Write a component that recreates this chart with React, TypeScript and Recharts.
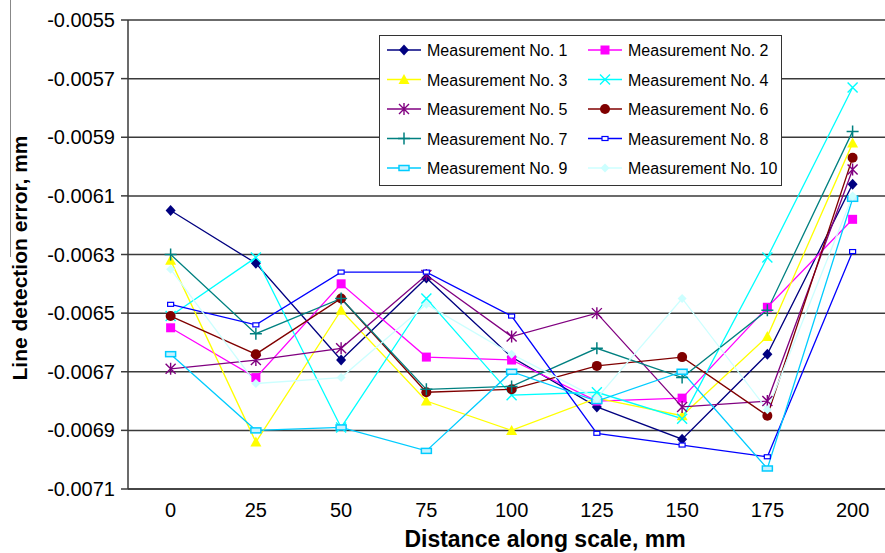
import React from 'react';
import { LineChart, Line, XAxis, YAxis, CartesianGrid, Label } from 'recharts';

const distances = [0, 25, 50, 75, 100, 125, 150, 175, 200];
const yTicks = [-0.0071, -0.0069, -0.0067, -0.0065, -0.0063, -0.0061, -0.0059, -0.0057, -0.0055];

const m1 = [-0.00615, -0.00633, -0.00666, -0.00638, -0.00665, -0.00682, -0.00693, -0.00664, -0.00606];
const m2 = [-0.00655, -0.00672, -0.0064, -0.00665, -0.00666, -0.0068, -0.00679, -0.00648, -0.00618];
const m3 = [-0.00632, -0.00694, -0.00649, -0.0068, -0.0069, -0.00679, -0.00685, -0.00658, -0.00592];
const m4 = [-0.00651, -0.00631, -0.00689, -0.00645, -0.00678, -0.00677, -0.00686, -0.00631, -0.00573];
const m5 = [-0.00669, -0.00666, -0.00662, -0.00637, -0.00658, -0.0065, -0.00682, -0.0068, -0.00601];
const m6 = [-0.00651, -0.00664, -0.00645, -0.00677, -0.00676, -0.00668, -0.00665, -0.00685, -0.00597];
const m7 = [-0.0063, -0.00657, -0.00645, -0.00676, -0.00675, -0.00662, -0.00672, -0.00649, -0.00588];
const m8 = [-0.00647, -0.00654, -0.00636, -0.00636, -0.00651, -0.00691, -0.00695, -0.00699, -0.00629];
const m9 = [-0.00664, -0.0069, -0.00689, -0.00697, -0.0067, -0.0068, -0.0067, -0.00703, -0.00611];
const m10 = [-0.00635, -0.00674, -0.00672, -0.00647, -0.00664, -0.00679, -0.00645, -0.00683, -0.0061];

const seriesValues = [m1, m2, m3, m4, m5, m6, m7, m8, m9, m10];
const seriesNames = [
  'Measurement No. 1', 'Measurement No. 2', 'Measurement No. 3', 'Measurement No. 4', 'Measurement No. 5',
  'Measurement No. 6', 'Measurement No. 7', 'Measurement No. 8', 'Measurement No. 9', 'Measurement No. 10',
];
const seriesColors = ['#000080', '#FF00FF', '#FFFF00', '#00FFFF', '#800080', '#800000', '#008080', '#0000FF', '#00CCFF', '#CCFFFF'];
const seriesShapes = ['diamond', 'square', 'triangle', 'x', 'asterisk', 'circle', 'plus', 'dash', 'rect', 'smallDiamond'];

const data = distances.map((d, i) => {
  const row: any = { d };
  seriesValues.forEach((vals, s) => { row['m' + (s + 1)] = vals[i]; });
  return row;
});

const font = '"Liberation Sans", Arial, sans-serif';

function Marker({ cx, cy, shape, color }: { cx: number; cy: number; shape: string; color: string }) {
  if (cx == null || cy == null) return null;
  switch (shape) {
    case 'diamond':
      return <polygon points={`${cx},${cy - 5.5} ${cx + 5},${cy} ${cx},${cy + 5.5} ${cx - 5},${cy}`} fill={color} />;
    case 'square':
      return <rect x={cx - 4.5} y={cy - 4.5} width={9} height={9} fill={color} />;
    case 'triangle':
      return <polygon points={`${cx},${cy - 5.5} ${cx + 5.5},${cy + 4.5} ${cx - 5.5},${cy + 4.5}`} fill={color} />;
    case 'x':
      return <path d={`M${cx - 5},${cy - 5}L${cx + 5},${cy + 5}M${cx - 5},${cy + 5}L${cx + 5},${cy - 5}`} stroke={color} strokeWidth={1.4} fill="none" />;
    case 'asterisk':
      return <path d={`M${cx - 5},${cy - 5}L${cx + 5},${cy + 5}M${cx - 5},${cy + 5}L${cx + 5},${cy - 5}M${cx},${cy - 6}L${cx},${cy + 6}`} stroke={color} strokeWidth={1.4} fill="none" />;
    case 'circle':
      return <circle cx={cx} cy={cy} r={5} fill={color} />;
    case 'plus':
      return <path d={`M${cx - 6},${cy}L${cx + 6},${cy}M${cx},${cy - 6}L${cx},${cy + 6}`} stroke={color} strokeWidth={1.5} fill="none" />;
    case 'dash':
      return <rect x={cx - 3} y={cy - 2} width={6} height={4} fill="#fff" stroke={color} strokeWidth={1.2} />;
    case 'rect':
      return <rect x={cx - 5} y={cy - 2.5} width={10} height={5} fill="#c8f2ff" stroke={color} strokeWidth={1.5} />;
    case 'smallDiamond':
      return <polygon points={`${cx},${cy - 4.5} ${cx + 4.5},${cy} ${cx},${cy + 4.5} ${cx - 4.5},${cy}`} fill={color} />;
    default:
      return null;
  }
}

const renderDot = (s: number) => (props: any) => (
  <Marker key={`dot-${s}-${props.index}`} cx={props.cx} cy={props.cy} shape={seriesShapes[s]} color={seriesColors[s]} />
);

const XTitle = () => (
  <text x={545} y={547} textAnchor="middle" fontFamily={font} fontSize={23} fontWeight="bold" fill="#000">
    Distance along scale, mm
  </text>
);

const YTitle = () => (
  <text x={27} y={258} transform="rotate(-90 27 258)" textAnchor="middle" fontFamily={font} fontSize={21} fontWeight="bold" fill="#000">
    Line detection error, mm
  </text>
);

const ChartLegend = () => (
  <div style={{ position: 'absolute', left: 379, top: 35, width: 403, height: 151, boxSizing: 'border-box', border: '1.5px solid #333', background: '#fff' }}>
    <svg width={400} height={148} style={{ position: 'absolute', left: 0, top: 0 }}>
      {seriesNames.map((name, s) => {
        const col = s % 2;
        const row = Math.floor(s / 2);
        const x0 = col === 0 ? 7 : 208;
        const y = 14 + row * 29.5;
        return (
          <g key={name}>
            <line x1={x0} x2={x0 + 34} y1={y} y2={y} stroke={seriesColors[s]} strokeWidth={1.5} />
            <Marker cx={x0 + 17} cy={y} shape={seriesShapes[s]} color={seriesColors[s]} />
            <text x={x0 + 40} y={y + 6} fontFamily={font} fontSize={16} fill="#000">{name}</text>
          </g>
        );
      })}
    </svg>
  </div>
);

export default function App() {
  return (
    <div style={{ position: 'absolute', left: 0, top: 0, width: 885, height: 553, background: '#fff' }}>
      <div style={{ position: 'absolute', left: 10, top: 0, width: 1, height: 257, background: '#888' }} />
      <LineChart width={885} height={553} data={data} margin={{ top: 20, right: 0, bottom: 0, left: 0 }}>
        <CartesianGrid vertical={false} stroke="#3a3a3a" strokeWidth={1.5} />
        <XAxis
          dataKey="d"
          type="number"
          domain={[-12.5, 209.5]}
          ticks={distances}
          allowDataOverflow
          interval={0}
          height={64}
          tickLine={false}
          tickSize={8}
          tickMargin={6}
          axisLine={{ stroke: '#3a3a3a', strokeWidth: 1.5 }}
          tick={{ fill: '#000', fontSize: 20, fontFamily: font }}
        >
          <Label content={XTitle} />
        </XAxis>
        <YAxis
          type="number"
          domain={[-0.0071, -0.0055]}
          ticks={yTicks}
          interval={0}
          width={128}
          tickSize={7}
          tickMargin={6}
          tickFormatter={(v: number) => v.toFixed(4)}
          axisLine={{ stroke: '#3a3a3a', strokeWidth: 1.5 }}
          tickLine={{ stroke: '#3a3a3a', strokeWidth: 1.5 }}
          tick={{ fill: '#000', fontSize: 20, fontFamily: font }}
        >
          <Label content={YTitle} />
        </YAxis>
        {seriesValues.map((_, s) => (
          <Line
            key={s}
            type="linear"
            dataKey={'m' + (s + 1)}
            name={seriesNames[s]}
            stroke={seriesColors[s]}
            strokeWidth={1.3}
            dot={renderDot(s)}
            activeDot={false}
            isAnimationActive={false}
          />
        ))}
      </LineChart>
      <ChartLegend />
    </div>
  );
}
